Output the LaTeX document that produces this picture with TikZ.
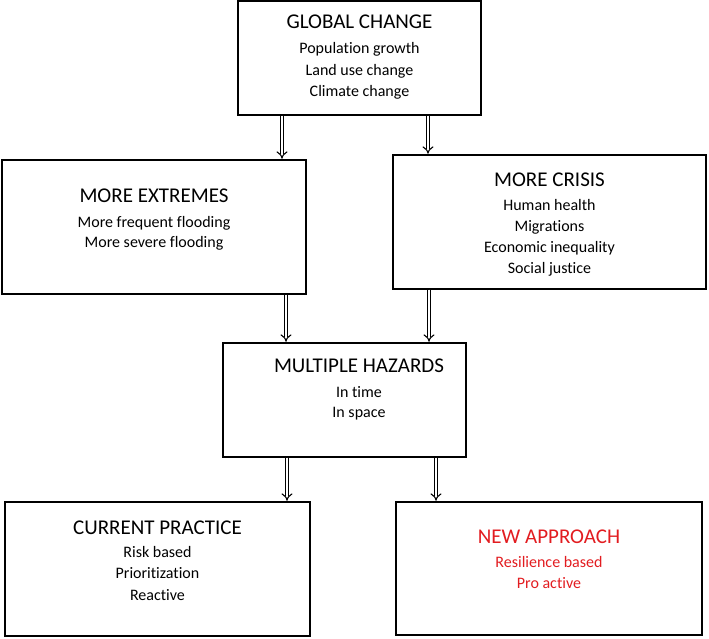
\documentclass[tikz,border=0pt]{standalone}
\usepackage{fontspec}
\setmainfont{Carlito}[Ligatures=NoCommon]
\usetikzlibrary{fit,arrows.meta}
\definecolor{newred}{RGB}{226,28,32}
\tikzset{
  box/.style={draw, line width=1.3pt, inner sep=0pt},
  ttl/.style={anchor=base, inner sep=0pt, font=\fontsize{21}{24}\selectfont},
  bdy/.style={anchor=base, inner sep=0pt, font=\fontsize{16}{18}\selectfont},
  dbl/.style={double, double distance=2.6pt, line width=1.1pt, -{Implies[length=6pt]}, shorten >=0.6pt}
}
\begin{document}
\begin{tikzpicture}[x=1pt,y=-1pt]
\useasboundingbox (0,0) rectangle (709,639);
% boxes
\node[box, fit={(238,1) (481,115)}] (gc) {};
\node[box, fit={(2,160) (306,294)}] (me) {};
\node[box, fit={(393,155) (706,289)}] (mc) {};
\node[box, fit={(223,343) (466,457)}] (mh) {};
\node[box, fit={(5,502) (310,636)}] (cp) {};
\node[box, fit={(396,502) (702,635)}] (na) {};
% texts: global change
\node[ttl] (gct) at (359.5,29) {GLOBAL CHANGE};
\node[bdy] (gc1) at (359.5,53.5) {Population growth};
\node[bdy] (gc2) at (359.5,75.5) {Land use change};
\node[bdy] (gc3) at (359.5,96.5) {Climate change};
% more extremes
\node[ttl] (met) at (154,202) {MORE EXTREMES};
\node[bdy] (me1) at (154,227.5) {More frequent flooding};
\node[bdy] (me2) at (154,247.5) {More severe flooding};
% more crisis
\node[ttl] (mct) at (549.5,186) {MORE CRISIS};
\node[bdy] (mc1) at (549.5,210.5) {Human health};
\node[bdy] (mc2) at (549.5,231.5) {Migrations};
\node[bdy] (mc3) at (549.5,252.5) {Economic inequality};
\node[bdy] (mc4) at (549.5,273.5) {Social justice};
% multiple hazards
\node[ttl] (mht) at (359,372) {MULTIPLE HAZARDS};
\node[bdy] (mh1) at (359,397.5) {In time};
\node[bdy] (mh2) at (359,417.5) {In space};
% current practice
\node[ttl] (cpt) at (157.5,534) {CURRENT PRACTICE};
\node[bdy] (cp1) at (157.5,557.5) {Risk based};
\node[bdy] (cp2) at (157.5,578.5) {Prioritization};
\node[bdy] (cp3) at (157.5,600.5) {Reactive};
% new approach
\node[ttl, text=newred] (nat) at (549,543) {NEW APPROACH};
\node[bdy, text=newred] (na1) at (549,567.5) {Resilience based};
\node[bdy, text=newred] (na2) at (549,588.5) {Pro active};
% arrows
\draw[dbl] (gc.south -| 282,0) -- (me.north -| 282,0);
\draw[dbl] (gc.south -| 428,0) -- (mc.north -| 428,0);
\draw[dbl] (me.south -| 286,0) -- (mh.north -| 286,0);
\draw[dbl] (mc.south -| 429,0) -- (mh.north -| 429,0);
\draw[dbl] (mh.south -| 287,0) -- (cp.north -| 287,0);
\draw[dbl] (mh.south -| 436,0) -- (na.north -| 436,0);
\end{tikzpicture}
\end{document}
